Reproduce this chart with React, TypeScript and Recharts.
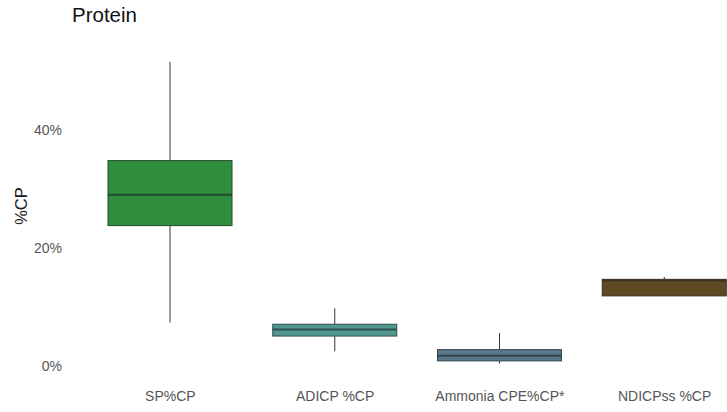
import React from "react";
import { ComposedChart, Bar, XAxis, YAxis } from "recharts";

const categories = ["SP%CP", "ADICP %CP", "Ammonia CPE%CP*", "NDICPss %CP"];
const whiskerLow = [7.4, 2.5, 0.45, 11.9];
const q1 = [23.8, 5.1, 0.9, 11.9];
const median = [29.0, 6.2, 1.75, 14.5];
const q3 = [34.8, 7.1, 2.8, 14.7];
const whiskerHigh = [51.5, 9.8, 5.6, 15.1];
const fills = ["#2f8f3f", "#519791", "#5a7889", "#5e4a22"];
const strokes = ["#214a2a", "#2f4f4c", "#33444c", "#3a3024"];
const yTicks = [0, 20, 40];

const data = categories.map((name, i) => ({
  name,
  range: [whiskerLow[i], whiskerHigh[i]],
  q1: q1[i],
  median: median[i],
  q3: q3[i],
  fill: fills[i],
  stroke: strokes[i],
}));

function BoxShape(props: any) {
  const { x, y, width, height, payload } = props;
  const [lo, hi] = payload.range;
  const pix = (v: number) => y + ((hi - v) / (hi - lo || 1)) * height;
  const cx = x + width / 2;
  const top = pix(payload.q3);
  const bot = pix(payload.q1);
  return (
    <g>
      <line x1={cx} x2={cx} y1={pix(hi)} y2={top} stroke="#333" strokeWidth={1} />
      <line x1={cx} x2={cx} y1={bot} y2={pix(lo)} stroke="#333" strokeWidth={1} />
      <rect x={x} y={top} width={width} height={Math.max(bot - top, 0.5)} fill={payload.fill} stroke={payload.stroke} strokeWidth={1} />
      <line x1={x} x2={x + width} y1={pix(payload.median)} y2={pix(payload.median)} stroke={payload.stroke} strokeWidth={2} />
    </g>
  );
}

function YLabel(props: any) {
  const vb = props.viewBox;
  const cy = vb.y + vb.height / 2 - 6;
  return (
    <text x={27} y={cy} transform={`rotate(-90 27 ${cy})`} textAnchor="middle" fontSize={16.5} fill="#1a1a1a">
      %CP
    </text>
  );
}

export default function App() {
  return (
    <div style={{ position: "absolute", left: 0, top: 0, width: 727, height: 412, overflow: "hidden", background: "#fff", fontFamily: "'Liberation Sans', Arial, sans-serif" }}>
      <div style={{ position: "absolute", left: 72, top: 3, fontSize: 20.5, color: "#111" }}>Protein</div>
      <ComposedChart width={747} height={412} data={data} margin={{ top: 46, right: 0, bottom: 0, left: 0 }}>
        <XAxis
          dataKey="name"
          axisLine={false}
          tickLine={false}
          tickSize={0}
          tickMargin={13}
          height={34}
          padding={{ left: 22, right: 0 }}
          tick={{ fontSize: 14, fill: "#555" }}
          interval={0}
        />
        <YAxis
          domain={[-2.0, 54.2]}
          ticks={yTicks}
          tickFormatter={(v) => `${v}%`}
          axisLine={false}
          tickLine={false}
          tickSize={0}
          tickMargin={4}
          width={66}
          tick={{ fontSize: 14, fill: "#555" }}
          label={<YLabel />}
          allowDataOverflow
        />
        <Bar dataKey="range" barSize={124} shape={<BoxShape />} isAnimationActive={false} />
      </ComposedChart>
    </div>
  );
}
